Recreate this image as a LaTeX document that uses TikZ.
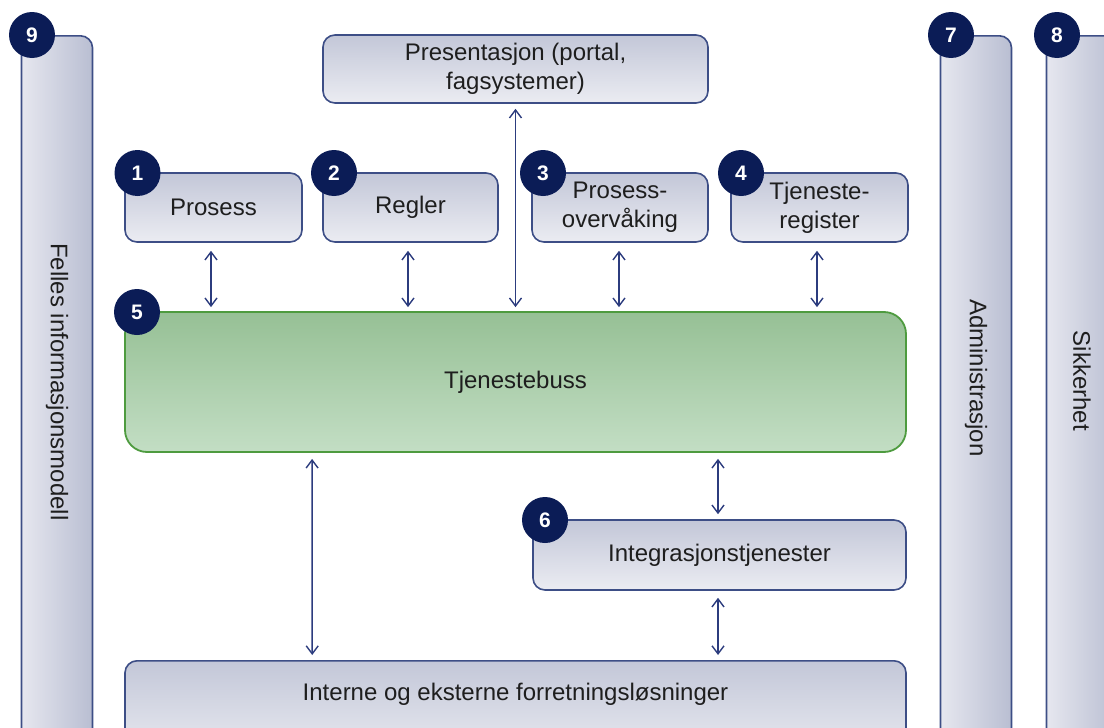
\documentclass[tikz,border=0pt]{standalone}
\usepackage{fontspec}
\setmainfont{Liberation Sans}
\usetikzlibrary{arrows.meta,calc}
\definecolor{edge}{HTML}{3D4E86}
\definecolor{boxtop}{HTML}{C3C7D8}
\definecolor{boxbot}{HTML}{EBECF2}
\definecolor{vleft}{HTML}{E6E7EF}
\definecolor{vright}{HTML}{B9BED2}
\definecolor{bustop}{HTML}{96C095}
\definecolor{busbot}{HTML}{C3DEC4}
\definecolor{busedge}{HTML}{4E9B3F}
\definecolor{badgefill}{HTML}{0B1C56}
\definecolor{arrowc}{HTML}{2C3C7E}
\definecolor{txt}{HTML}{1E1E1E}
\begin{document}
\begin{tikzpicture}[x=1pt,y=-1pt,
  box/.style={draw=edge,line width=1.6pt,rounded corners=12pt,top color=boxtop,bottom color=boxbot,
    inner sep=0pt,font=\fontsize{24}{29}\selectfont,text=txt,align=center},
  vbox/.style={draw=edge,line width=1.6pt,rounded corners=12pt,left color=vleft,right color=vright,
    inner sep=0pt,minimum width=71pt,minimum height=760pt,anchor=north},
  lbl/.style={inner sep=0pt,font=\fontsize{24}{29}\selectfont,text=txt,align=center},
  vlbl/.style={lbl,rotate=-90},
  bus/.style={draw=busedge,line width=1.8pt,rounded corners=22pt,top color=bustop,bottom color=busbot,
    inner sep=0pt,font=\fontsize{24}{29}\selectfont,text=txt},
  badge/.style={circle,fill=badgefill,minimum size=46pt,inner sep=0pt,text=white,
    font=\fontsize{21}{21}\selectfont\bfseries},
  arr/.style={draw=arrowc,line width=1.4pt,{Straight Barb[length=8pt,width=12pt]}-{Straight Barb[length=8pt,width=12pt]}}
]
\useasboundingbox (0,0) rectangle (1104,728);
\clip (0,0) rectangle (1104,728);

% vertical columns
\node[vbox] (info) at (57,35) {};
\node[vbox] (admin) at (976,35) {};
\node[vbox] (sikk) at (1082,35) {};
\node[vlbl] (infolbl) at (57,382) {Felles informasjonsmodell};
\node[vlbl] (adminlbl) at (976,378) {Administrasjon};
\node[vlbl] (sikklbl) at (1082,381) {Sikkerhet};

% top boxes
\node[box,minimum width=385pt,minimum height=68pt] (pres) at (515.5,69) {Presentasjon (portal,\\fagsystemer)};
\node[box,minimum width=177pt,minimum height=69pt] (prosess) at (213.5,207.5) {Prosess};
\node[box,minimum width=175pt,minimum height=69pt] (regler) at (410.5,207.5) {Regler};
\node[box,minimum width=176pt,minimum height=69pt] (overv) at (620,207.5) {Prosess-\\overvåking};
\node[box,minimum width=177pt,minimum height=69pt] (treg) at (819.5,207.5) {Tjeneste-\\register};

% bus
\node[bus,minimum width=781pt,minimum height=140pt] (bussen) at (515.5,382) {Tjenestebuss};

% integration and business solutions
\node[box,minimum width=373pt,minimum height=70pt] (integ) at (719.5,555) {Integrasjonstjenester};
\node[box,minimum width=781pt,minimum height=100pt,anchor=north] (interne) at (515.5,660) {};
\node[lbl] (internelbl) at (515.5,694) {Interne og eksterne forretningsløsninger};

% arrows
\draw[arr,shorten <=5pt,shorten >=4pt] (pres.south) -- (pres.south |- bussen.north);
\draw[arr,shorten <=8pt,shorten >=4pt] ([xshift=-2.5pt]prosess.south) -- ([xshift=-2.5pt]prosess.south |- bussen.north);
\draw[arr,shorten <=8pt,shorten >=4pt] ([xshift=-2.5pt]regler.south) -- ([xshift=-2.5pt]regler.south |- bussen.north);
\draw[arr,shorten <=8pt,shorten >=4pt] ([xshift=-1pt]overv.south) -- ([xshift=-1pt]overv.south |- bussen.north);
\draw[arr,shorten <=8pt,shorten >=4pt] ([xshift=-2.5pt]treg.south) -- ([xshift=-2.5pt]treg.south |- bussen.north);
\draw[arr,shorten <=6pt,shorten >=5pt] ([xshift=188pt]bussen.south west) -- ([xshift=188pt]interne.north west);
\draw[arr,shorten <=6pt,shorten >=5pt] ([xshift=-1.5pt]integ.north |- bussen.south) -- ([xshift=-1.5pt]integ.north);
\draw[arr,shorten <=7pt,shorten >=5pt] ([xshift=-1.5pt]integ.south) -- ([xshift=-1.5pt]integ.south |- interne.north);

% badges
\node[badge] (b9) at (32,35) {9};
\node[badge] (b7) at (951,35) {7};
\node[badge] (b8) at (1057,35) {8};
\node[badge] (b1) at (137.5,173) {1};
\node[badge] (b2) at (334,173) {2};
\node[badge] (b3) at (543,173) {3};
\node[badge] (b4) at (741,173) {4};
\node[badge] (b5) at (137,312) {5};
\node[badge] (b6) at (545,520) {6};
\end{tikzpicture}
\end{document}
